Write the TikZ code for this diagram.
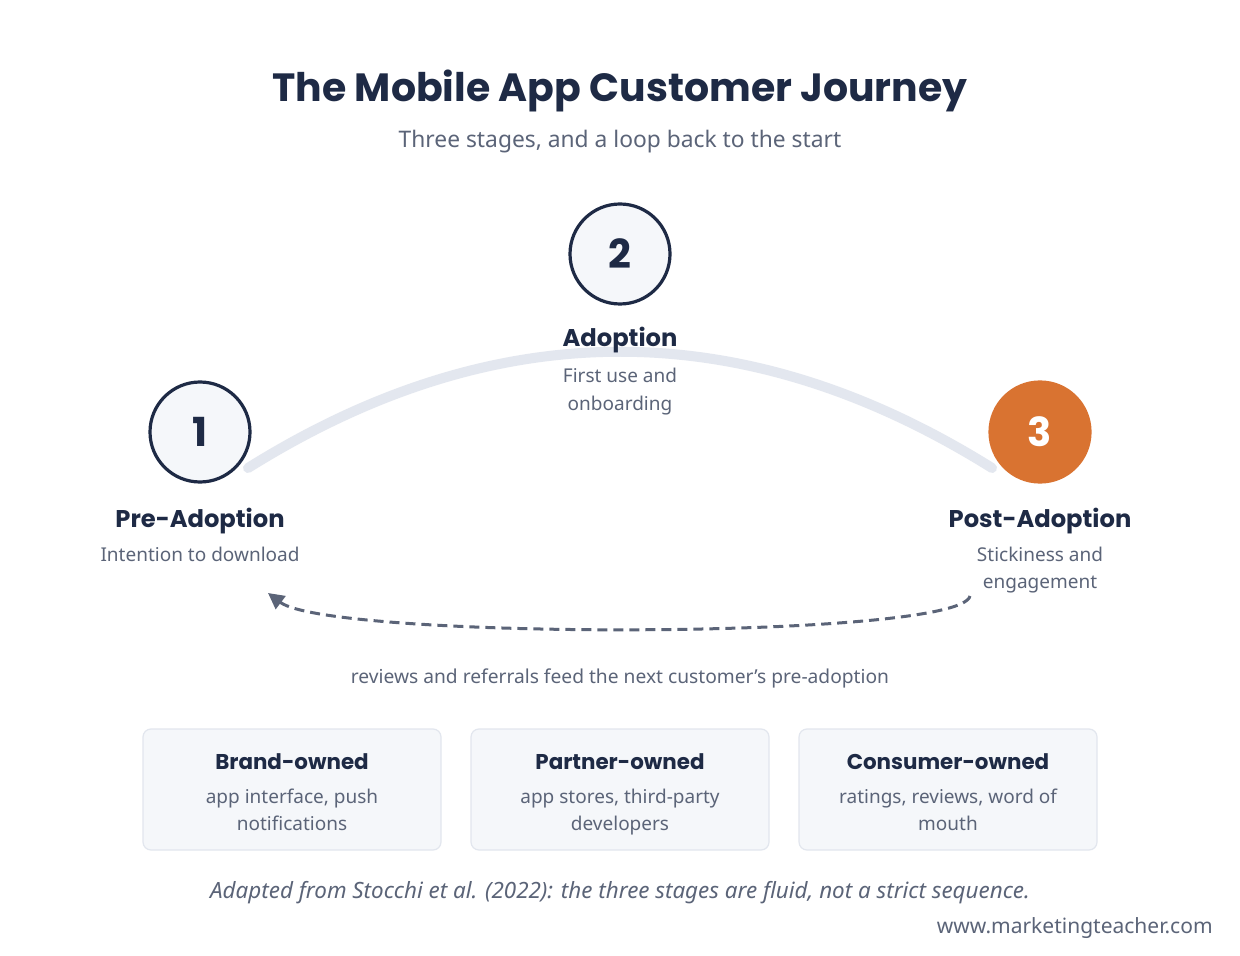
\documentclass[tikz,border=0pt]{standalone}
\usepackage{fontspec}
\setmainfont{Noto Sans}
\newfontfamily\headfont{Poppins}
\usetikzlibrary{arrows.meta}

\definecolor{ink}{HTML}{1E2A45}
\definecolor{muted}{HTML}{5B6478}
\definecolor{arcgray}{HTML}{E3E7EF}
\definecolor{hotorange}{HTML}{D97331}
\definecolor{paper}{HTML}{F5F7FA}
\definecolor{cardline}{HTML}{E2E6EE}

\tikzset{
  stage/.style={circle, draw=ink, line width=1.6pt, fill=paper, minimum size=50pt,
    inner sep=0pt, text=ink, font=\headfont\bfseries\fontsize{20}{24}\selectfont},
  hot/.style={fill=hotorange, draw=hotorange, text=white},
  stagehead/.style={anchor=base, inner sep=0pt, text=ink, font=\headfont\bfseries\fontsize{12.1}{15}\selectfont},
  stagedesc/.style={anchor=base, inner sep=0pt, text=muted, align=center, font=\fontsize{9.5}{13.5}\selectfont},
  card/.style={draw=cardline, fill=paper, rounded corners=4pt, line width=0.6pt,
    minimum width=149pt, minimum height=60.5pt},
  cardhead/.style={anchor=base, inner sep=0pt, text=ink, font=\headfont\bfseries\fontsize{10.7}{14}\selectfont},
  journey/.style={arcgray, line width=5pt, line cap=round},
  feedback/.style={muted, line width=1.5pt, dash pattern=on 5pt off 3pt, -{Triangle[length=8pt,width=8pt]}}
}

\begin{document}
\begin{tikzpicture}[x=0.5pt,y=-0.5pt]
  \fill[white] (0,0) rectangle (1240,956);
  \useasboundingbox (0,0) rectangle (1240,956);

  % title
  \node[anchor=base, inner sep=0pt, text=ink, font=\headfont\bfseries\fontsize{19.7}{24}\selectfont] (title) at (620,102) {The Mobile App Customer Journey};
  \node[anchor=base, inner sep=0pt, text=muted, font=\fontsize{11.4}{15}\selectfont] (subtitle) at (620,148) {Three stages, and a loop back to the start};

  % the arc behind the stages
  \coordinate (arcL) at (248,468);
  \coordinate (arcR) at (992,468);
  \draw[journey] (arcL) .. controls (496,313) and (744,313) .. (arcR);

  \node[stage] (s1) at (200,432) {1};
  \node[stage] (s2) at (620,254) {2};
  \node[stage, hot] (s3) at (1040,432) {3};

  % base of a two line text is its last line
  \node[stagehead] (h1) at (200,527) {Pre-Adoption};
  \node[stagedesc] (d1) at (200,561) {Intention to download};
  \node[stagehead] (h2) at (620,347) {Adoption};
  \node[stagedesc] (d2) at (620,410) {First use and\\onboarding};
  \node[stagehead] (h3) at (1040,527) {Post-Adoption};
  \node[stagedesc] (d3) at (1040,588) {Stickiness and\\engagement};

  % loop back
  \coordinate (loopS) at (970,596);
  \coordinate (loopE) at (268,593);
  \draw[feedback] (loopS) .. controls (960,640) and (330,640) .. (loopE);
  \node[anchor=base, inner sep=0pt, text=muted, font=\fontsize{9.6}{12}\selectfont] (loop) at (620,683) {reviews and referrals feed the next customer’s pre-adoption};

  % owners
  \node[card] (b1) at (292,789.5) {};
  \node[card] (b2) at (620,789.5) {};
  \node[card] (b3) at (948,789.5) {};
  \node[cardhead] (b1h) at (292,769) {Brand-owned};
  \node[cardhead] (b2h) at (620,769) {Partner-owned};
  \node[cardhead] (b3h) at (948,769) {Consumer-owned};
  \node[stagedesc] (b1d) at (292,830) {app interface, push\\notifications};
  \node[stagedesc] (b2d) at (620,830) {app stores, third-party\\developers};
  \node[stagedesc] (b3d) at (948,830) {ratings, reviews, word of\\mouth};

  \node[anchor=base, inner sep=0pt, text=muted, font=\itshape\fontsize{11.2}{13}\selectfont] (note) at (620,898) {Adapted from Stocchi et al. (2022): the three stages are fluid, not a strict sequence.};
  \node[anchor=base east, inner sep=0pt, text=muted, font=\fontsize{10.5}{13}\selectfont] (site) at (1213,933) {www.marketingteacher.com};
\end{tikzpicture}
\end{document}
